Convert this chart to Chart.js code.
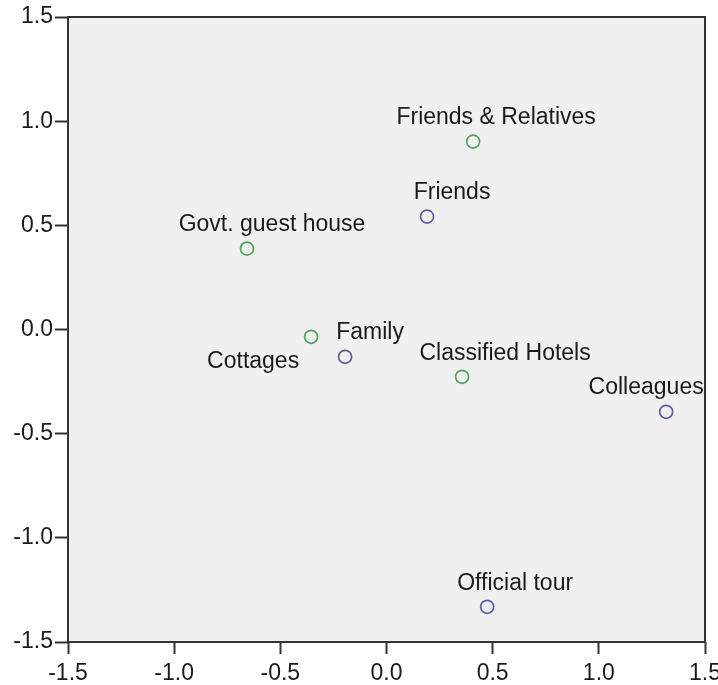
<!DOCTYPE html>
<html>
<head>
<meta charset="utf-8">
<script src="https://cdn.jsdelivr.net/npm/chart.js@4.4.1/dist/chart.umd.min.js"></script>
<style>
  html, body { margin: 0; padding: 0; background: #ffffff; }
  #wrap { width: 718px; height: 685px; }
</style>
</head>
<body>
<div id="wrap"><canvas id="c" width="718" height="685"></canvas></div>
<script>
// ---- Data ----
const placeLabels = ["Friends & Relatives", "Govt. guest house", "Cottages", "Classified Hotels"];
const placeX = [0.408, -0.657, -0.355, 0.356];
const placeY = [0.902, 0.388, -0.035, -0.227];

const companionLabels = ["Friends", "Family", "Colleagues", "Official tour"];
const companionX = [0.191, -0.195, 1.317, 0.474];
const companionY = [0.542, -0.131, -0.395, -1.331];

const tickValues = [-1.5, -1.0, -0.5, 0.0, 0.5, 1.0, 1.5];

// label placement (pixel offsets of text centre / baseline from the point)
const placeLabelDx = [23, 25, -58, 43];
const placeLabelDy = [-18, -18, 31, -17];
const companionLabelDx = [25, 25, -20, 28];
const companionLabelDy = [-18, -18, -18, -17];

const FONT = '"Liberation Sans", Arial, sans-serif';
const AXIS_COLOR = '#333333';

function toPoints(xs, ys) { return xs.map((x, i) => ({ x: x, y: ys[i] })); }

const frame = {
  id: 'frame',
  beforeDraw(chart) {
    const a = chart.chartArea, ctx = chart.ctx;
    ctx.save();
    ctx.fillStyle = '#f0f0f0';
    ctx.fillRect(a.left, a.top, a.right - a.left, a.bottom - a.top);
    ctx.restore();
  },
  afterDraw(chart) {
    const a = chart.chartArea, ctx = chart.ctx;
    ctx.save();
    ctx.strokeStyle = AXIS_COLOR;
    ctx.lineWidth = 2;
    ctx.strokeRect(a.left, a.top, a.right - a.left, a.bottom - a.top);
    ctx.restore();
  }
};

const pointLabels = {
  id: 'pointLabels',
  afterDatasetsDraw(chart) {
    const ctx = chart.ctx;
    ctx.save();
    ctx.font = '23px ' + FONT;
    ctx.fillStyle = '#1a1a1a';
    ctx.textAlign = 'center';
    ctx.textBaseline = 'alphabetic';
    chart.data.datasets.forEach((ds, di) => {
      const meta = chart.getDatasetMeta(di);
      meta.data.forEach((el, i) => {
        ctx.fillText(ds.pointNames[i], el.x + ds.labelDx[i], el.y + ds.labelDy[i]);
      });
    });
    ctx.restore();
  }
};

const tickFont = { family: FONT, size: 23 };

new Chart(document.getElementById('c'), {
  type: 'scatter',
  data: {
    datasets: [
      {
        label: 'Places',
        data: toPoints(placeX, placeY),
        pointNames: placeLabels,
        labelDx: placeLabelDx,
        labelDy: placeLabelDy,
        pointStyle: 'circle',
        pointRadius: 6.5,
        pointBorderWidth: 1.7,
        borderColor: '#4ea45a',
        backgroundColor: 'rgba(0,0,0,0)'
      },
      {
        label: 'Companions',
        data: toPoints(companionX, companionY),
        pointNames: companionLabels,
        labelDx: companionLabelDx,
        labelDy: companionLabelDy,
        pointStyle: 'circle',
        pointRadius: 6.5,
        pointBorderWidth: 1.7,
        borderColor: '#5a5fa3',
        backgroundColor: 'rgba(0,0,0,0)'
      }
    ]
  },
  options: {
    responsive: false,
    devicePixelRatio: 1,
    animation: false,
    layout: { padding: { top: 17, right: 13, left: 0, bottom: 0 } },
    plugins: { legend: { display: false }, tooltip: { enabled: false } },
    scales: {
      x: {
        type: 'linear',
        min: -1.5, max: 1.5,
        afterBuildTicks(scale) { scale.ticks = tickValues.map(v => ({ value: v })); },
        afterFit(scale) { scale.height = 43; scale.paddingLeft = 0; scale.paddingRight = 0; },
        ticks: {
          font: tickFont, color: '#1a1a1a', padding: 6, maxRotation: 0, autoSkip: false,
          callback: v => Number(v).toFixed(1)
        },
        grid: { drawOnChartArea: false, drawTicks: true, tickLength: 12, tickWidth: 2, color: AXIS_COLOR },
        border: { display: false }
      },
      y: {
        type: 'linear',
        min: -1.5, max: 1.5,
        afterBuildTicks(scale) { scale.ticks = tickValues.map(v => ({ value: v })); },
        afterFit(scale) { scale.width = 68; scale.paddingTop = 0; scale.paddingBottom = 0; },
        ticks: {
          font: tickFont, color: '#1a1a1a', padding: 2, autoSkip: false,
          callback: v => Number(v).toFixed(1)
        },
        grid: { drawOnChartArea: false, drawTicks: true, tickLength: 13, tickWidth: 2, color: AXIS_COLOR },
        border: { display: false }
      }
    }
  },
  plugins: [frame, pointLabels]
});
</script>
</body>
</html>
